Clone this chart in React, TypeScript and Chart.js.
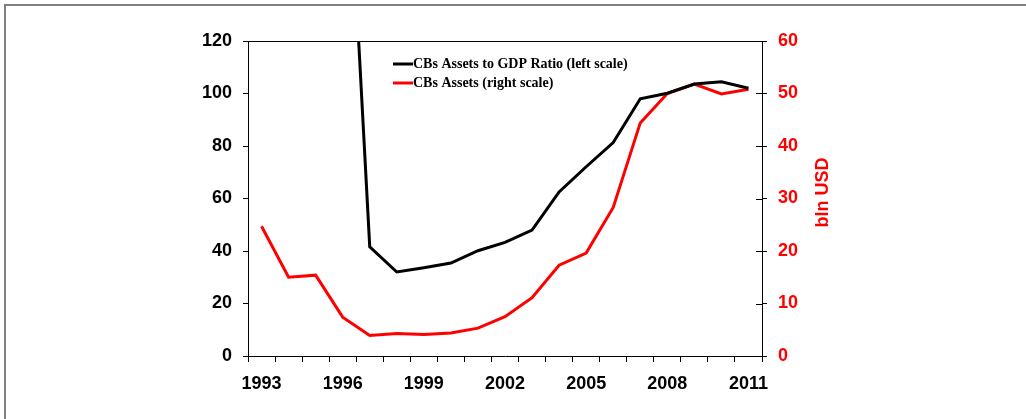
import React, { useEffect, useRef } from 'react';
import { Chart, registerables } from 'chart.js';

Chart.register(...registerables);

const years = ['1993','1994','1995','1996','1997','1998','1999','2000','2001','2002','2003','2004','2005','2006','2007','2008','2009','2010','2011'];
const shownYears = ['1993','1996','1999','2002','2005','2008','2011'];
const ratioToGdp = [null, null, null, 233, 41.6, 32.0, 33.6, 35.4, 40.1, 43.3, 48.0, 62.5, 72.1, 81.3, 98.0, 100.1, 103.6, 104.5, 102.0];
const assetsBln = [24.7, 15.0, 15.4, 7.4, 3.9, 4.3, 4.1, 4.4, 5.3, 7.5, 11.1, 17.3, 19.6, 28.3, 44.4, 50.0, 51.8, 49.9, 50.8];
const ratioLabel = 'CBs Assets to GDP Ratio (left scale)';
const assetsLabel = 'CBs Assets (right scale)';
const rightTitle = 'bln USD';

const W = 1026;
const H = 419;

const decor = {
  id: 'decor',
  beforeDraw(chart: any) {
    const ctx = chart.ctx;
    ctx.save();
    ctx.fillStyle = '#ffffff';
    ctx.fillRect(0, 0, W, H);
    ctx.fillStyle = '#808080';
    ctx.fillRect(4, 4, W - 4, 2);
    ctx.fillRect(4, 4, 2, H - 4);
    ctx.restore();
  },
  afterDraw(chart: any) {
    const ctx = chart.ctx;
    const { left, right, top, bottom } = chart.chartArea;
    ctx.save();
    ctx.strokeStyle = '#000';
    ctx.lineWidth = 1;
    ctx.beginPath();
    ctx.moveTo(left, top + 0.5);
    ctx.lineTo(right, top + 0.5);
    ctx.stroke();
    const y1 = chart.scales.y1;
    y1.ticks.forEach((_t: any, i: number) => {
      const py = Math.round(y1.getPixelForTick(i)) + 0.5;
      ctx.beginPath();
      ctx.moveTo(right - 6, py);
      ctx.lineTo(right, py);
      ctx.stroke();
    });
    // right axis title
    ctx.save();
    ctx.translate(right + 61, (top + bottom) / 2 - 6);
    ctx.rotate(-Math.PI / 2);
    ctx.fillStyle = '#ff0000';
    ctx.font = 'bold 18px "Liberation Sans", Arial, sans-serif';
    ctx.textAlign = 'center';
    ctx.textBaseline = 'middle';
    ctx.fillText(rightTitle, 0, 0);
    ctx.restore();
    // legend
    const lx = left + 145;
    let ly = top + 23;
    chart.data.datasets.forEach((ds: any) => {
      ctx.strokeStyle = ds.borderColor;
      ctx.lineWidth = 3;
      ctx.beginPath();
      ctx.moveTo(lx, ly);
      ctx.lineTo(lx + 20, ly);
      ctx.stroke();
      ctx.fillStyle = '#000';
      ctx.font = 'bold 14px "Liberation Serif", "Times New Roman", serif';
      ctx.textAlign = 'left';
      ctx.textBaseline = 'middle';
      ctx.fillText(ds.label, lx + 20, ly);
      ly += 19;
    });
    ctx.restore();
  },
};

export default function App() {
  const ref = useRef<HTMLCanvasElement>(null);
  useEffect(() => {
    if (!ref.current) return;
    const tickFont = { family: '"Liberation Sans", Arial, sans-serif', size: 18, weight: 'bold' as const };
    const chart = new Chart(ref.current, {
      type: 'line',
      data: {
        labels: years,
        datasets: [
          {
            label: ratioLabel,
            data: ratioToGdp,
            borderColor: '#000000',
            backgroundColor: '#000000',
            borderWidth: 3,
            pointRadius: 0,
            tension: 0,
            yAxisID: 'y',
            clip: 0,
            spanGaps: false,
          },
          {
            label: assetsLabel,
            data: assetsBln,
            borderColor: '#ff0000',
            backgroundColor: '#ff0000',
            borderWidth: 3,
            pointRadius: 0,
            tension: 0,
            yAxisID: 'y1',
            clip: 0,
          },
        ],
      },
      options: {
        responsive: false,
        animation: false,
        devicePixelRatio: 1,
        layout: { padding: { top: 41, left: 0, right: 0, bottom: 0 } },
        plugins: { legend: { display: false }, tooltip: { enabled: false } },
        scales: {
          x: {
            offset: true,
            grid: { display: true, drawOnChartArea: false, drawTicks: true, tickLength: 6, color: '#000', offset: true },
            border: { display: true, color: '#000', width: 1 },
            ticks: {
              autoSkip: false,
              maxRotation: 0,
              minRotation: 0,
              padding: 11,
              color: '#000',
              font: tickFont,
              callback: function (this: any, value: any) {
                const lbl = this.getLabelForValue(value);
                return shownYears.includes(lbl) ? lbl : '';
              },
            },
            afterFit: (scale: any) => { scale.height = H - 356; },
          },
          y: {
            position: 'left',
            min: 0,
            max: 120,
            grid: { display: true, drawOnChartArea: false, drawTicks: true, tickLength: 5, color: '#000' },
            border: { display: true, color: '#000', width: 1 },
            ticks: { stepSize: 20, padding: 11, color: '#000', font: tickFont },
            afterFit: (scale: any) => { scale.width = 248; },
          },
          y1: {
            position: 'right',
            min: 0,
            max: 60,
            grid: { display: true, drawOnChartArea: false, drawTicks: true, tickLength: 5, color: '#000' },
            border: { display: true, color: '#000', width: 1 },
            ticks: { stepSize: 10, padding: 11, color: '#ff0000', font: tickFont },
            afterFit: (scale: any) => { scale.width = W - 762; },
          },
        },
      },
      plugins: [decor],
    });
    return () => chart.destroy();
  }, []);
  return (
    <div style={{ position: 'fixed', left: 0, top: 0, width: W, height: H, background: '#fff' }}>
      <canvas ref={ref} width={W} height={H} style={{ display: 'block', width: W, height: H }} />
    </div>
  );
}
